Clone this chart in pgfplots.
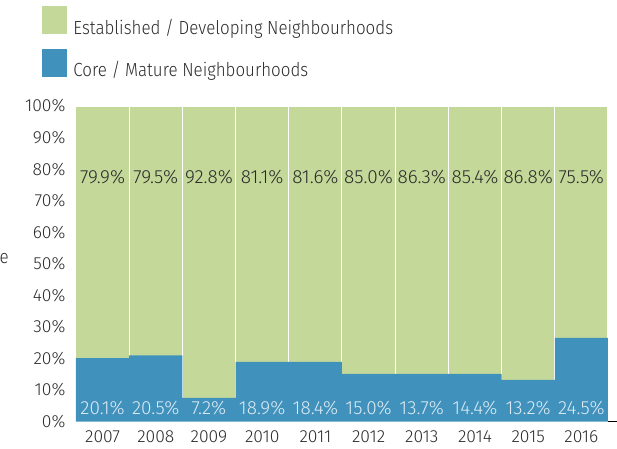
\documentclass[border=0pt]{standalone}
\usepackage{pgfplots}
\usepackage{pgfplotstable}
\pgfplotsset{compat=1.18}
\usepackage{fontspec}
\setmainfont{Fira Sans Light}
\newfontfamily\legfont{Fira Sans Light}[FakeStretch=0.89]
\definecolor{cgreen}{HTML}{C4D899}
\definecolor{cblue}{HTML}{4092BD}
\definecolor{clab}{HTML}{DCEBF4}
\definecolor{ctext}{HTML}{2B2B2B}
\newcommand\fstick{\fontsize{17.5}{20}\selectfont}
\newcommand\fslab{\fontsize{19}{22}\selectfont}
\newcommand\fsleg{\legfont\fontsize{19}{22}\selectfont}

% drawn core share (bar height), printed labels, label positions
\pgfplotstableread{
x total core labcore labest lyb lyg
0 100 20.1 20.1 79.9 4.3 77.5
1 100 21.0 20.5 79.5 4.3 77.5
2 100 7.5  7.2  92.8 4.3 77.5
3 100 18.9 18.9 81.1 4.3 77.5
4 100 18.9 18.4 81.6 4.3 77.5
5 100 15.1 15.0 85.0 4.3 77.5
6 100 15.1 13.7 86.3 4.3 77.5
7 100 15.1 14.4 85.4 4.3 77.5
8 100 13.2 13.2 86.8 4.3 77.5
9 100 26.5 24.5 75.5 4.3 77.5
}\data

\begin{document}
\begin{tikzpicture}
\begin{axis}[name=ax, scale only axis, width=541pt, height=315.5pt,
  xmin=-0.5, xmax=9.67, ymin=0, ymax=100,
  axis x line*=bottom, axis y line*=left,
  x axis line style={-, black, line width=1.6pt},
  y axis line style={draw=none},
  major tick length=0pt,
  xtick={0,...,9},
  xticklabels={2007,2008,2009,2010,2011,2012,2013,2014,2015,2016},
  ytick={0,10,...,100},
  yticklabels={0\%,10\%,20\%,30\%,40\%,50\%,60\%,70\%,80\%,90\%,100\%},
  tick label style={font=\fstick, text=ctext},
  xticklabel style={inner sep=1pt, yshift=-8pt},
  yticklabel style={xshift=-7pt},
  clip=false,
  legend style={at={(axis description cs:-0.0628,1.317)}, anchor=north west,
    draw=none, fill=none, inner sep=0pt, outer sep=0pt,
    nodes={inner sep=0pt, text=ctext}, font=\fsleg,
    column sep=7pt, row sep=13pt},
  legend cell align=left,
]
\addlegendimage{legend image code/.code={\fill[cgreen] (0pt,-6pt) rectangle (24pt,21pt);}}
\addlegendentry{Established / Developing Neighbourhoods}
\addlegendimage{legend image code/.code={\fill[cblue] (0pt,-6pt) rectangle (24pt,21pt);}}
\addlegendentry{Core / Mature Neighbourhoods}

\addplot[ybar, bar width=1, bar shift=0pt, fill=cgreen, draw=white, line width=1pt, forget plot]
  table[x=x, y=total] {\data};
\addplot[ybar, bar width=1, bar shift=0pt, fill=cblue, draw=none, forget plot]
  table[x=x, y=core] {\data};

\addplot[only marks, mark=none, forget plot, point meta=explicit symbolic,
  nodes near coords={\pgfplotspointmeta\%},
  every node near coord/.append style={anchor=center, inner sep=0pt, font=\fslab, text=ctext}]
  table[x=x, y=lyg, meta=labest] {\data};
\addplot[only marks, mark=none, forget plot, point meta=explicit symbolic,
  nodes near coords={\pgfplotspointmeta\%},
  every node near coord/.append style={anchor=center, inner sep=0pt, font=\fslab, text=clab}]
  table[x=x, y=lyb, meta=labcore] {\data};
\end{axis}
\node[anchor=base east, inner sep=0pt, font=\fsleg, text=ctext] at ([shift={(-67pt,158pt)}]ax.south west) {e};
\pgfresetboundingbox
\path[use as bounding box] ([shift={(-76pt,-26.5pt)}]ax.south west) rectangle ++(617pt,448pt);
\end{tikzpicture}
\end{document}
